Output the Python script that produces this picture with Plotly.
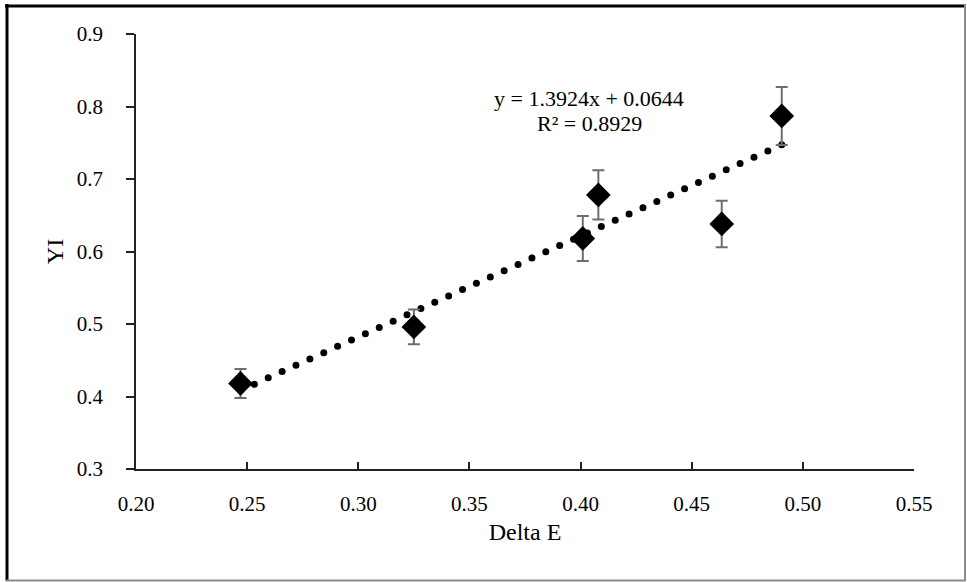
import numpy as np
import plotly.graph_objects as go

# Data
delta_e = [0.247, 0.325, 0.401, 0.408, 0.4635, 0.4905]
yi = [0.418, 0.496, 0.618, 0.678, 0.638, 0.787]
yi_err = [0.020, 0.024, 0.031, 0.034, 0.032, 0.040]

slope = 1.3924
intercept = 0.0644
r2 = 0.8929

x_ticks = [0.20, 0.25, 0.30, 0.35, 0.40, 0.45, 0.50, 0.55]
y_ticks = [0.3, 0.4, 0.5, 0.6, 0.7, 0.8, 0.9]

W, H = 967, 582
ML, MR, MT, MB = 136, 53, 34, 113
PW, PH = W - ML - MR, H - MT - MB

FONT = "Liberation Serif"

# trendline drawn as round dots along the fitted line
tx = np.linspace(min(delta_e), max(delta_e), 40)
ty = slope * tx + intercept

fig = go.Figure()
fig.add_trace(go.Scatter(
    x=tx, y=ty, mode="markers",
    marker=dict(symbol="circle", size=7, color="black"),
    hoverinfo="skip", showlegend=False,
))
fig.add_trace(go.Scatter(
    x=delta_e, y=yi, mode="markers",
    marker=dict(symbol="diamond", size=19, color="black"),
    error_y=dict(type="data", array=yi_err, visible=True,
                 color="#6e6e6e", thickness=2, width=6),
    showlegend=False,
))

def px_x(p):
    return (p - ML) / PW

def px_y(p):
    return 1 - (p - MT) / PH

# outer frame of the chart
shapes = [
    dict(type="line", xref="paper", yref="paper", x0=px_x(7), x1=px_x(7), y0=px_y(4), y1=px_y(581),
         line=dict(color="black", width=3)),
    dict(type="line", xref="paper", yref="paper", x0=px_x(5), x1=px_x(966), y0=px_y(6), y1=px_y(6),
         line=dict(color="black", width=3)),
    dict(type="line", xref="paper", yref="paper", x0=px_x(965), x1=px_x(965), y0=px_y(5), y1=px_y(581),
         line=dict(color="#8c8c8c", width=2)),
    dict(type="line", xref="paper", yref="paper", x0=px_x(6), x1=px_x(966), y0=px_y(580.5), y1=px_y(580.5),
         line=dict(color="#8c8c8c", width=2)),
]

fig.update_layout(
    width=W, height=H,
    margin=dict(l=ML, r=MR, t=MT, b=MB, pad=0),
    paper_bgcolor="white", plot_bgcolor="white",
    font=dict(family=FONT, color="black", size=21),
    shapes=shapes,
    xaxis=dict(
        range=[0.2, 0.55], tickvals=x_ticks, ticktext=[f"{v:.2f}" for v in x_ticks],
        showgrid=False, zeroline=False, showline=True, linecolor="#222", linewidth=1.5,
        ticks="inside", ticklen=7, tickcolor="#222", tickwidth=1.5,
        tickfont=dict(family=FONT, size=21), ticklabelstandoff=15,
        title=dict(text="Delta E", font=dict(family=FONT, size=24), standoff=8),
    ),
    yaxis=dict(
        range=[0.3, 0.9], tickvals=y_ticks, ticktext=[f"{v:.1f}" for v in y_ticks],
        showgrid=False, zeroline=False, showline=True, linecolor="#222", linewidth=1.5,
        ticks="outside", ticklen=8, tickcolor="#222", tickwidth=1.5,
        tickfont=dict(family=FONT, size=21), ticklabelstandoff=19,
        title=dict(text="YI", font=dict(family=FONT, size=24), standoff=6),
    ),
    annotations=[
        dict(x=px_x(589), y=px_y(98), xref="paper", yref="paper", showarrow=False,
             text=f"y = {slope:.4f}x + {intercept:.4f}", font=dict(family=FONT, size=22),
             xanchor="center", yanchor="middle"),
        dict(x=px_x(589), y=px_y(124), xref="paper", yref="paper", showarrow=False,
             text=f"R² = {r2:.4f}", font=dict(family=FONT, size=22),
             xanchor="center", yanchor="middle"),
    ],
)

fig.write_html("out.html")
